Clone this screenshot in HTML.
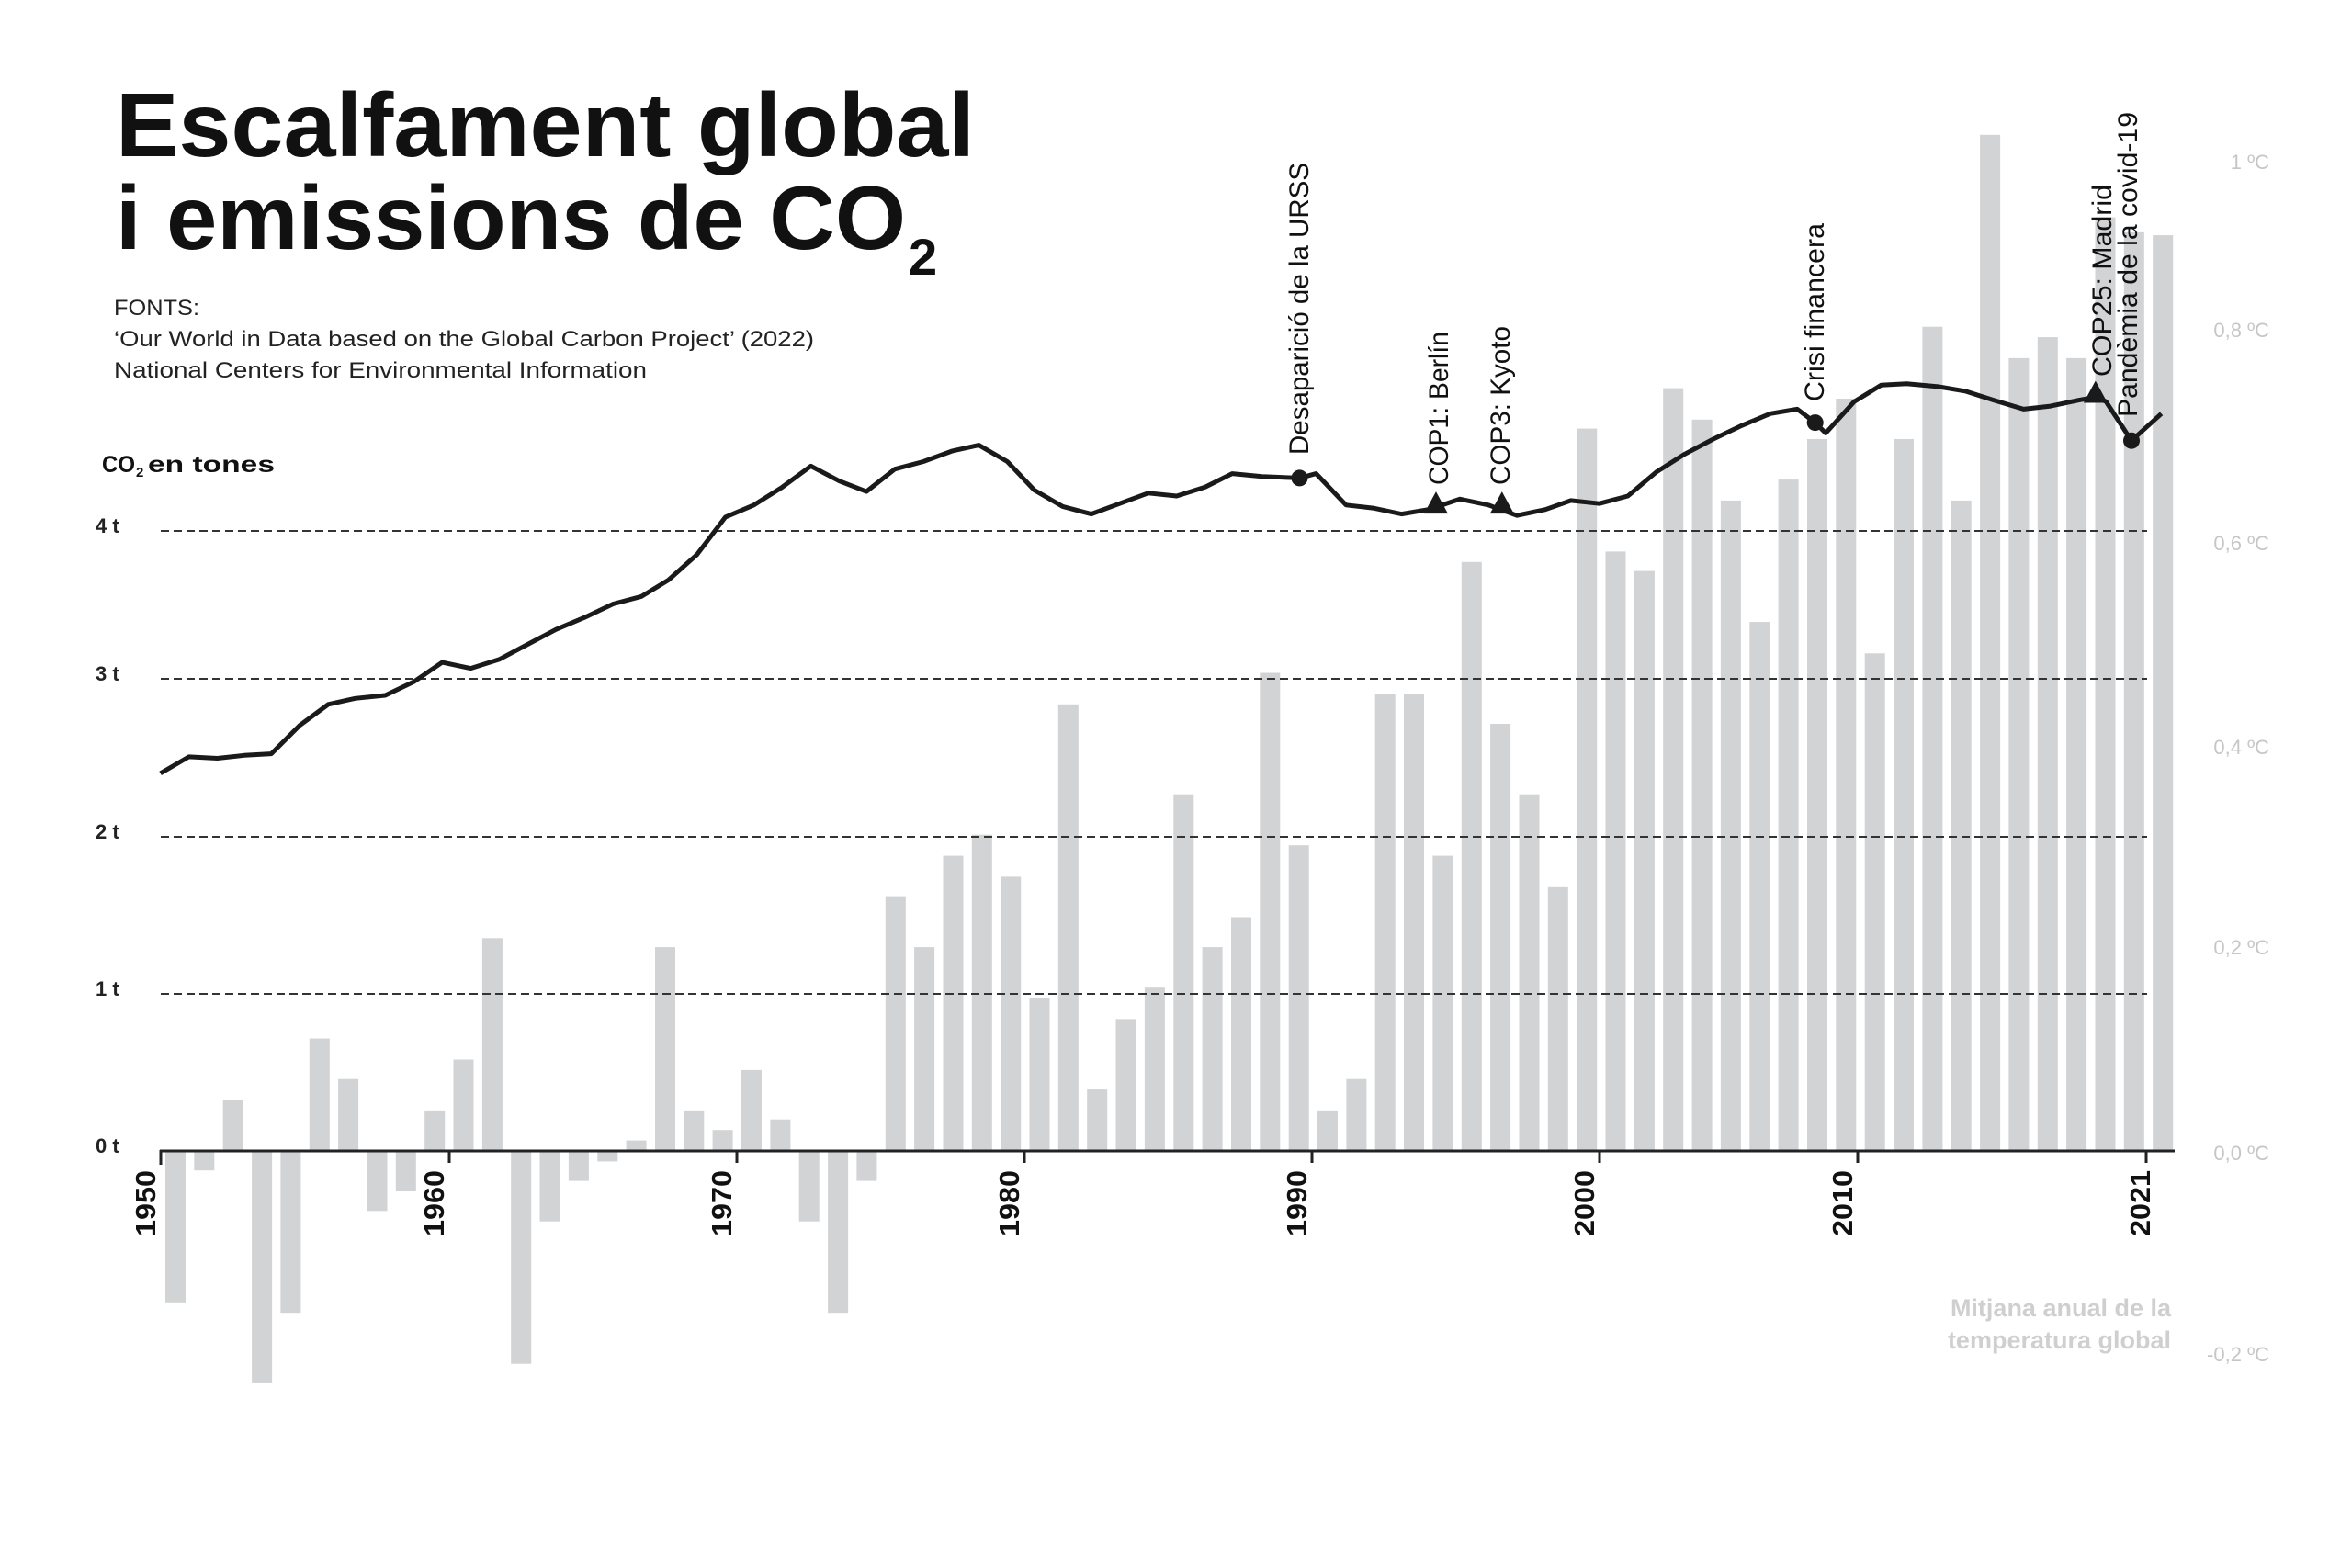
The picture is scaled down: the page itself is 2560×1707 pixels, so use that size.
<!DOCTYPE html>
<html><head><meta charset="utf-8">
<style>
html,body{margin:0;padding:0;background:#fff;}
svg{display:block;}
text{font-family:"Liberation Sans",sans-serif;}
</style></head>
<body>
<svg id="c" width="2560" height="1707" viewBox="0 0 2560 1707" xmlns="http://www.w3.org/2000/svg">
<rect width="2560" height="1707" fill="#fff"/>
<g id="bars" fill="#d1d3d4"></g>
<g stroke="#333" stroke-width="2" stroke-dasharray="9 5">
<line x1="175" y1="578" x2="2337" y2="578"/>
<line x1="175" y1="739" x2="2337" y2="739"/>
<line x1="175" y1="911" x2="2337" y2="911"/>
<line x1="175" y1="1082" x2="2337" y2="1082"/>
</g>
<g font-size="22" font-weight="bold" fill="#222">
<text x="104" y="580">4 t</text>
<text x="104" y="741">3 t</text>
<text x="104" y="913">2 t</text>
<text x="104" y="1084">1 t</text>
<text x="104" y="1255">0 t</text>
</g>
<line x1="174" y1="1253" x2="2367" y2="1253" stroke="#222" stroke-width="3"/>
<g stroke="#222" stroke-width="3">
<line x1="175" y1="1252" x2="175" y2="1268"/>
<line x1="489" y1="1253" x2="489" y2="1266"/>
<line x1="802" y1="1253" x2="802" y2="1266"/>
<line x1="1115" y1="1253" x2="1115" y2="1266"/>
<line x1="1428" y1="1253" x2="1428" y2="1266"/>
<line x1="1741" y1="1253" x2="1741" y2="1266"/>
<line x1="2022" y1="1253" x2="2022" y2="1266"/>
<line x1="2336" y1="1253" x2="2336" y2="1266"/>
</g>
<g font-size="31" font-weight="bold" fill="#111">
<text transform="translate(169,1346) rotate(-90)" textLength="72" lengthAdjust="spacingAndGlyphs">1950</text>
<text transform="translate(483,1346) rotate(-90)" textLength="72" lengthAdjust="spacingAndGlyphs">1960</text>
<text transform="translate(796,1346) rotate(-90)" textLength="72" lengthAdjust="spacingAndGlyphs">1970</text>
<text transform="translate(1109,1346) rotate(-90)" textLength="72" lengthAdjust="spacingAndGlyphs">1980</text>
<text transform="translate(1422,1346) rotate(-90)" textLength="72" lengthAdjust="spacingAndGlyphs">1990</text>
<text transform="translate(1735,1346) rotate(-90)" textLength="72" lengthAdjust="spacingAndGlyphs">2000</text>
<text transform="translate(2016,1346) rotate(-90)" textLength="72" lengthAdjust="spacingAndGlyphs">2010</text>
<text transform="translate(2340,1346) rotate(-90)" textLength="72" lengthAdjust="spacingAndGlyphs">2021</text>
</g>
<g font-size="22" fill="#c6c6c6" text-anchor="end">
<text x="2470" y="184">1 ºC</text>
<text x="2470" y="367">0,8 ºC</text>
<text x="2470" y="599">0,6 ºC</text>
<text x="2470" y="821">0,4 ºC</text>
<text x="2470" y="1039">0,2 ºC</text>
<text x="2470" y="1263">0,0 ºC</text>
<text x="2470" y="1482">-0,2 ºC</text>
</g>
<g font-size="27" font-weight="bold" fill="#cfcfcf" text-anchor="end">
<text x="2363" y="1433">Mitjana anual de la</text>
<text x="2363" y="1468">temperatura global</text>
</g>
<polyline id="co2" fill="none" stroke="#1a1a1a" stroke-width="5" stroke-linejoin="round" points=""/>
<g id="marks" fill="#1a1a1a"></g>
<g font-size="30" fill="#111">
<text transform="translate(1424,495) rotate(-90)" textLength="318" lengthAdjust="spacingAndGlyphs">Desaparició de la URSS</text>
<text transform="translate(1576,528) rotate(-90)" textLength="167" lengthAdjust="spacingAndGlyphs">COP1: Berlín</text>
<text transform="translate(1643,528) rotate(-90)" textLength="173" lengthAdjust="spacingAndGlyphs">COP3: Kyoto</text>
<text transform="translate(1985,437) rotate(-90)" textLength="194" lengthAdjust="spacingAndGlyphs">Crisi financera</text>
<text transform="translate(2298,410) rotate(-90)" textLength="209" lengthAdjust="spacingAndGlyphs">COP25: Madrid</text>
<text transform="translate(2326,454) rotate(-90)" textLength="332" lengthAdjust="spacingAndGlyphs">Pandèmia de la covid-19</text>
</g>
<g font-weight="bold" fill="#111">
<text x="126" y="170" font-size="98" textLength="935" lengthAdjust="spacingAndGlyphs">Escalfament global</text>
<text x="126" y="271" font-size="98" textLength="860" lengthAdjust="spacingAndGlyphs">i emissions de CO</text>
<text x="989" y="299" font-size="56">2</text>
</g>
<g font-weight="bold" fill="#111" font-size="25">
<text x="111" y="514" textLength="36" lengthAdjust="spacingAndGlyphs">CO</text>
<text x="148" y="519" font-size="15">2</text>
<text x="161" y="514" textLength="138" lengthAdjust="spacingAndGlyphs">en tones</text>
</g>
<g font-size="24" fill="#222">
<text x="124" y="343" textLength="93" lengthAdjust="spacingAndGlyphs">FONTS:</text>
<text x="124" y="377" textLength="762" lengthAdjust="spacingAndGlyphs">‘Our World in Data based on the Global Carbon Project’ (2022)</text>
<text x="124" y="411" textLength="580" lengthAdjust="spacingAndGlyphs">National Centers for Environmental Information</text>
</g>
</svg>
<script>
(function(){
var k=1.6315, base=1253;
var tops=[869,781,734,923,876,693,720,808,795,741,707,626,910,815,788,775,761,632,741,754,714,747,815,876,788,598,632,571,557,585,666,470,727,680,659,530,632,612,449,564,741,720,463,463,571,375,483,530,592,286,368,381,259,280,334,415,320,293,266,436,293,218,334,90,239,225,239,145,155,157];
var g=document.getElementById('bars'), html='';
for(var i=0;i<tops.length;i++){
 var x=180+i*31.35, y=tops[i]*k, ry,h;
 if(y<base){ry=y;h=base-y;}else{ry=base;h=y-base;}
 html+='<rect x="'+x.toFixed(1)+'" y="'+ry.toFixed(1)+'" width="22" height="'+h.toFixed(1)+'"/>';
}
g.innerHTML=html;
var pts=[[107,516],[126,505],[145,506],[163,504],[181,503],[200,484],[219,470],[237,466],[257,464],[276,455],[295,442],[314,446],[333,440],[352,430],[371,420],[390,412],[409,403],[428,398],[446,387],[465,370],[484,345],[503,337],[522,325],[541,311],[560,321],[578,328],[597,313],[616,308],[635,301],[653,297],[672,308],[690,327],[709,338],[728,343],[747,336],[766,329],[785,331],[804,325],[822,316],[842,318],[867,319],[878,316],[898,337],[916,339],[935,343],[953,340],[974,333],[993,337],[1012,344],[1031,340],[1048,334],[1067,336],[1086,331],[1105,315],[1124,303],[1143,293],[1162,284],[1181,276],[1199,273],[1211,282],[1218,289],[1237,268],[1255,257],[1272,256],[1293,258],[1311,261],[1330,267],[1350,273],[1368,271],[1387,267],[1398,265],[1405,268],[1422,294],[1442,276]];
var s=pts.map(function(p){return (p[0]*k).toFixed(1)+','+(p[1]*k).toFixed(1);}).join(' ');
document.getElementById('co2').setAttribute('points',s);
var m='';
[[867,319],[1211,282],[1422,294]].forEach(function(p){m+='<circle cx="'+(p[0]*k).toFixed(1)+'" cy="'+(p[1]*k).toFixed(1)+'" r="9"/>';});
[[958,336],[1002,336],[1398,262]].forEach(function(p){var x=p[0]*k,y=p[1]*k;m+='<polygon points="'+(x-13)+','+(y+11)+' '+(x+13)+','+(y+11)+' '+x+','+(y-13)+'"/>';});
document.getElementById('marks').innerHTML=m;
})();
</script>
</body></html>
